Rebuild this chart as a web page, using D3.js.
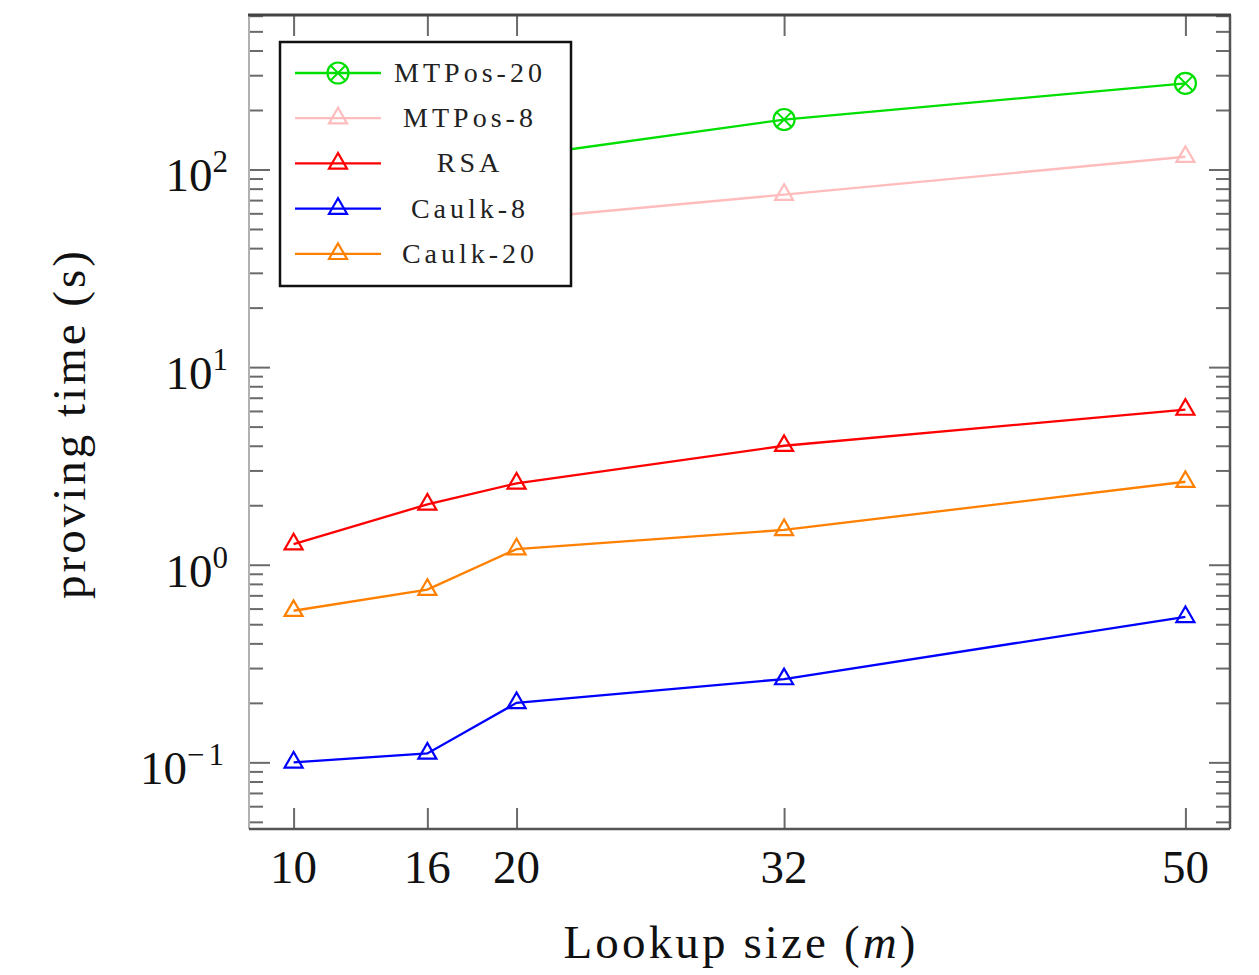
<!DOCTYPE html>
<html>
<head>
<meta charset="utf-8">
<script src="https://cdn.jsdelivr.net/npm/d3@7"></script>
<style>
  html, body { margin: 0; padding: 0; background: #fff; }
  svg { display: block; font-family: "Liberation Serif", "DejaVu Serif", serif; }
</style>
</head>
<body>
<svg id="chart" width="1259" height="975"></svg>
<script>
// lookup sizes (x) and proving times in seconds (y, log scale)
const lookupSizes = [10, 16, 20, 32, 50]
const mtpos20 = [62, 92, 116, 179, 273]
const mtpos8 = [30, 44, 56, 74.6, 116]
const rsa = [1.27, 2.02, 2.58, 4.0, 6.1]
const caulk8 = [0.1, 0.111, 0.2, 0.264, 0.545]
const caulk20 = [0.585, 0.748, 1.2, 1.5, 2.63]

const seriesNames = ["MTPos-20", "MTPos-8", "RSA", "Caulk-8", "Caulk-20"]
const seriesValues = [mtpos20, mtpos8, rsa, caulk8, caulk20]
const seriesColors = ["#00e000", "#ffbcbc", "#ff0000", "#0000ff", "#ff8000"]
const seriesMarks = ["otimes", "triangle", "triangle", "triangle", "triangle"]

const xTicks = [10, 16, 20, 32, 50]
const yMajor = [0.1, 1, 10, 100]
const yMajorExp = ["\u22121", "0", "1", "2"]

const svg = d3.select("#chart")
const plotLeft = 249, plotRight = 1230, plotTop = 15, plotBottom = 829

const x = d3.scaleLinear().domain([8, 52]).range([plotLeft, plotRight])
const y = d3.scaleLog().domain([0.046, 605]).range([plotBottom, plotTop])

// minor ticks for each decade (2..9 x 10^k) inside the domain
const yMinor = []
for (let k = -2; k <= 2; k++) {
  for (let m = 2; m <= 9; m++) {
    const v = m * Math.pow(10, k)
    if (v > y.domain()[0] && v < y.domain()[1]) yMinor.push(v)
  }
}

const tickColor = "#6a6a6a"
function styleAxis(g) {
  g.select(".domain").remove()
  g.selectAll(".tick line").attr("stroke", tickColor).attr("stroke-width", 2)
  g.selectAll(".tick text").remove()
}

// y ticks on left and right sides, pointing inwards
svg.append("g").attr("transform", `translate(${plotLeft},0)`)
  .call(d3.axisRight(y).tickValues(yMinor).tickSize(14)).call(styleAxis)
svg.append("g").attr("transform", `translate(${plotLeft},0)`)
  .call(d3.axisRight(y).tickValues(yMajor).tickSize(21)).call(styleAxis)
svg.append("g").attr("transform", `translate(${plotRight},0)`)
  .call(d3.axisLeft(y).tickValues(yMinor).tickSize(14)).call(styleAxis)
svg.append("g").attr("transform", `translate(${plotRight},0)`)
  .call(d3.axisLeft(y).tickValues(yMajor).tickSize(21)).call(styleAxis)

// x ticks on bottom and top, pointing inwards
svg.append("g").attr("transform", `translate(0,${plotBottom})`)
  .call(d3.axisTop(x).tickValues(xTicks).tickSize(21)).call(styleAxis)
svg.append("g").attr("transform", `translate(0,${plotTop})`)
  .call(d3.axisBottom(x).tickValues(xTicks).tickSize(21)).call(styleAxis)

// frame
svg.append("line").attr("x1", plotLeft).attr("x2", plotLeft).attr("y1", plotTop).attr("y2", plotBottom)
  .attr("stroke", "#b0b0b0").attr("stroke-width", 2)
svg.append("line").attr("x1", plotLeft).attr("x2", plotRight).attr("y1", plotBottom).attr("y2", plotBottom)
  .attr("stroke", "#555").attr("stroke-width", 2.5)
svg.append("line").attr("x1", plotRight).attr("x2", plotRight).attr("y1", plotTop).attr("y2", plotBottom)
  .attr("stroke", "#555").attr("stroke-width", 2.5)
svg.append("line").attr("x1", plotLeft - 1).attr("x2", plotRight + 1).attr("y1", plotTop).attr("y2", plotTop)
  .attr("stroke", "#444").attr("stroke-width", 3)

// series lines
const line = d3.line().x((d) => x(d[0])).y((d) => y(d[1]))
seriesValues.forEach((vals, i) => {
  const pts = lookupSizes.map((s, j) => [s, vals[j]])
  svg.append("path")
    .attr("d", line(pts))
    .attr("fill", "none")
    .attr("stroke", seriesColors[i])
    .attr("stroke-width", 2.3)
})

// markers
const triR = 10.4
function drawMark(g, kind, cx, cy, color) {
  if (kind === "triangle") {
    const pts = [90, 210, 330].map((a) => {
      const r = (a * Math.PI) / 180
      return [cx + triR * Math.cos(r), cy - triR * Math.sin(r)]
    })
    g.append("path")
      .attr("d", "M" + pts.map((p) => p.join(",")).join("L") + "Z")
      .attr("fill", "none").attr("stroke", color).attr("stroke-width", 2.2)
  } else {
    const r = 10.5, d = r * Math.SQRT1_2
    g.append("circle").attr("cx", cx).attr("cy", cy).attr("r", r)
      .attr("fill", "none").attr("stroke", color).attr("stroke-width", 2.2)
    g.append("path")
      .attr("d", `M${cx - d},${cy - d}L${cx + d},${cy + d}M${cx - d},${cy + d}L${cx + d},${cy - d}`)
      .attr("stroke", color).attr("stroke-width", 2)
  }
}
seriesValues.forEach((vals, i) => {
  const g = svg.append("g")
  lookupSizes.forEach((s, j) => drawMark(g, seriesMarks[i], x(s), y(vals[j]), seriesColors[i]))
})

// x tick labels
svg.append("g").selectAll("text").data(xTicks).enter().append("text")
  .attr("x", (d) => x(d)).attr("y", 883)
  .attr("text-anchor", "middle").attr("font-size", 47).attr("fill", "#111")
  .text((d) => d)

// y tick labels 10^k
yMajor.forEach((v, i) => {
  const t = svg.append("text")
    .attr("x", 228).attr("y", y(v) + 22)
    .attr("text-anchor", "end").attr("fill", "#111")
  t.append("tspan").attr("font-size", 47).text("10")
  t.append("tspan").attr("font-size", 31).attr("dy", -19)
    .attr("letter-spacing", yMajorExp[i].length > 1 ? 4 : 0)
    .text(yMajorExp[i])
})

// axis titles
svg.append("text")
  .attr("x", (plotLeft + plotRight) / 2).attr("y", 958)
  .attr("text-anchor", "middle").attr("font-size", 47).attr("fill", "#111")
  .attr("textLength", 352).attr("lengthAdjust", "spacing")
  .call((t) => {
    t.append("tspan").text("Lookup size (")
    t.append("tspan").attr("font-style", "italic").text("m")
    t.append("tspan").text(")")
  })

svg.append("text")
  .attr("transform", "translate(85,425) rotate(-90)")
  .attr("text-anchor", "middle").attr("font-size", 47).attr("fill", "#111")
  .attr("textLength", 348).attr("lengthAdjust", "spacing")
  .text("proving time (s)")

// legend
const legend = svg.append("g")
legend.append("rect")
  .attr("x", 280).attr("y", 42).attr("width", 291).attr("height", 244)
  .attr("fill", "#fff").attr("stroke", "#111").attr("stroke-width", 2.5)
seriesNames.forEach((name, i) => {
  const ly = 73 + i * 45.2
  legend.append("line")
    .attr("x1", 295).attr("x2", 381).attr("y1", ly).attr("y2", ly)
    .attr("stroke", seriesColors[i]).attr("stroke-width", 2.3)
  drawMark(legend, seriesMarks[i], 338, ly, seriesColors[i])
  legend.append("text")
    .attr("x", 470).attr("y", ly + 9)
    .attr("text-anchor", "middle").attr("font-size", 28)
    .attr("letter-spacing", 4).attr("fill", "#222")
    .text(name)
})
</script>
</body>
</html>
